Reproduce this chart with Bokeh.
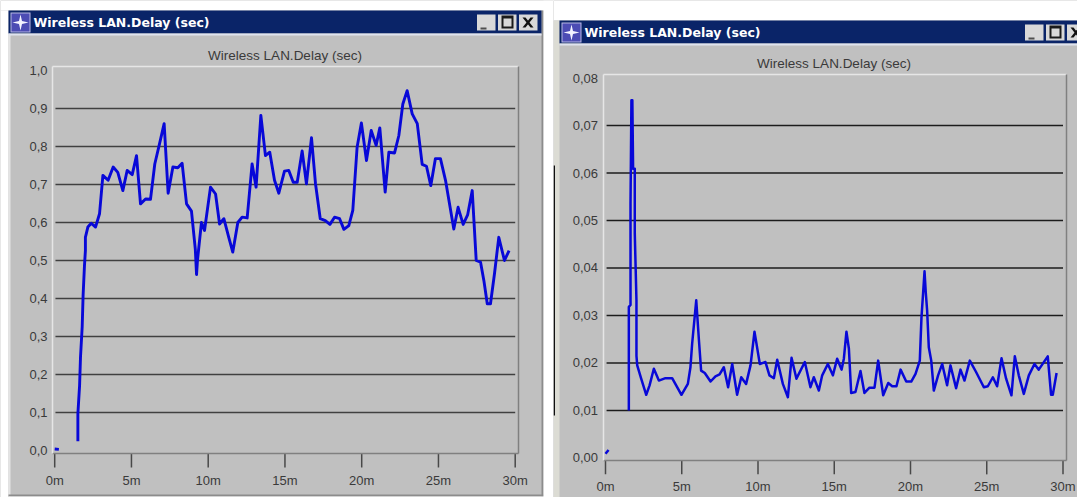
from bokeh.plotting import figure
from bokeh.layouts import row
from bokeh.models import BoxAnnotation, Label, PolyAnnotation, FixedTicker, LinearAxis
from bokeh.embed import file_html
from bokeh.resources import INLINE

WINDOW_TITLE = "Wireless LAN.Delay (sec)"
X_TICKS = [0, 5, 10, 15, 20, 25, 30]
X_LABELS = ["0m", "5m", "10m", "15m", "20m", "25m", "30m"]

L_Y_TICKS = [0.0, 0.1, 0.2, 0.3, 0.4, 0.5, 0.6, 0.7, 0.8, 0.9, 1.0]
L_Y_LABELS = ["0,0", "0,1", "0,2", "0,3", "0,4", "0,5", "0,6", "0,7", "0,8", "0,9", "1,0"]
R_Y_TICKS = [0.0, 0.01, 0.02, 0.03, 0.04, 0.05, 0.06, 0.07, 0.08]
R_Y_LABELS = ["0,00", "0,01", "0,02", "0,03", "0,04", "0,05", "0,06", "0,07", "0,08"]

L_STUB_T = [0.0, 0.27]
L_STUB_V = [0.004, 0.003]
L_T = [1.51, 1.51, 1.62, 1.68, 1.79, 1.85, 1.94, 2.0, 2.0, 2.16, 2.38, 2.66, 2.92, 3.14, 3.48, 3.81,
       4.11, 4.44, 4.72, 5.05, 5.33, 5.59, 5.92, 6.24, 6.52, 6.85, 7.13, 7.39, 7.70, 8.02, 8.3, 8.59,
       8.91, 9.16, 9.24, 9.3, 9.56, 9.76, 10.15, 10.48, 10.74, 11.02, 11.34, 11.6, 11.93, 12.21, 12.54,
       12.86, 13.12, 13.43, 13.73, 14.01, 14.32, 14.6, 14.97, 15.25, 15.54, 15.8, 16.12, 16.4, 16.73,
       16.99, 17.3, 17.63, 17.93, 18.23, 18.56, 18.84, 19.16, 19.42, 19.7, 19.98, 20.31, 20.62, 20.94,
       21.18, 21.53, 21.77, 22.14, 22.42, 22.68, 22.96, 23.29, 23.62, 23.94, 24.22, 24.5, 24.8, 25.13,
       25.46, 26.0, 26.28, 26.61, 26.9, 27.2, 27.46, 27.74, 27.96, 28.18, 28.39, 28.65, 28.93, 29.3, 29.6]
L_V = [0.024, 0.097, 0.17, 0.245, 0.325, 0.408, 0.487, 0.526, 0.561, 0.588, 0.598, 0.588, 0.623, 0.724,
       0.711, 0.746, 0.732, 0.684, 0.737, 0.726, 0.776, 0.649, 0.662, 0.661, 0.754, 0.811, 0.86, 0.677,
       0.746, 0.744, 0.756, 0.649, 0.63, 0.53, 0.463, 0.5, 0.6, 0.579, 0.693, 0.675, 0.596, 0.61, 0.561,
       0.522, 0.6, 0.614, 0.612, 0.754, 0.693, 0.882, 0.776, 0.785, 0.711, 0.677, 0.735, 0.737, 0.706,
       0.706, 0.788, 0.702, 0.823, 0.702, 0.61, 0.605, 0.595, 0.614, 0.61, 0.582, 0.592, 0.632, 0.798,
       0.862, 0.763, 0.842, 0.803, 0.849, 0.68, 0.785, 0.783, 0.829, 0.912, 0.947, 0.886, 0.86, 0.753,
       0.748, 0.697, 0.768, 0.768, 0.711, 0.583, 0.64, 0.595, 0.62, 0.684, 0.5, 0.496, 0.447, 0.386, 0.386,
       0.465, 0.561, 0.5, 0.526]

R_STUB_T = [0.0, 0.2]
R_STUB_V = [0.0009, 0.0017]
R_T = [1.53, 1.53, 1.64, 1.64, 1.7, 1.76, 1.81, 1.92, 1.92, 2.03, 2.03, 2.08, 2.34, 2.67, 2.89, 3.17, 3.5, 3.93,
       4.37, 4.98, 5.4, 5.57, 5.68, 5.95, 6.12, 6.27, 6.51, 6.89, 7.21, 7.48, 7.76, 8.04, 8.31, 8.63, 8.9,
       9.22, 9.51, 9.77, 10.12, 10.49, 10.75, 11.04, 11.26, 11.63, 11.96, 12.2, 12.52, 13.07, 13.44, 13.66,
       13.99, 14.21, 14.58, 14.91, 15.19, 15.48, 15.63, 15.8, 15.96, 16.11, 16.39, 16.72, 16.98, 17.31,
       17.64, 17.88, 18.21, 18.54, 18.8, 19.08, 19.35, 19.72, 20.05, 20.33, 20.61, 20.72, 20.83, 20.92,
       21.0, 21.09, 21.2, 21.36, 21.53, 21.81, 22.08, 22.4, 22.62, 22.99, 23.28, 23.54, 23.89, 24.3, 24.81,
       25.07, 25.4, 25.68, 25.97, 26.27, 26.62, 26.84, 27.1, 27.43, 27.76, 28.13, 28.41, 29.0, 29.22, 29.33,
       29.58]
R_V = [0.01, 0.0318, 0.0322, 0.0535, 0.0753, 0.0753, 0.0609, 0.0609, 0.0472, 0.0332, 0.0215, 0.0195, 0.0167, 0.0133,
       0.0153, 0.0188, 0.0163, 0.0168, 0.0168, 0.0133, 0.0156, 0.0191, 0.024, 0.0332, 0.0251, 0.0184, 0.0179,
       0.0161, 0.0172, 0.0176, 0.0191, 0.0149, 0.0198, 0.0133, 0.017, 0.0156, 0.0195, 0.0266, 0.0198, 0.0202,
       0.0174, 0.0168, 0.0207, 0.0156, 0.0128, 0.0211, 0.0167, 0.0202, 0.0149, 0.017, 0.0142, 0.0174, 0.0198,
       0.0174, 0.0209, 0.0186, 0.0209, 0.0266, 0.023, 0.0137, 0.0139, 0.0183, 0.0137, 0.0148, 0.0148, 0.0205,
       0.0132, 0.0158, 0.0151, 0.0151, 0.0186, 0.0161, 0.0161, 0.0177, 0.0205, 0.0296, 0.0349, 0.0393, 0.0349,
       0.0311, 0.0233, 0.0205, 0.0142, 0.0174, 0.0198, 0.0153, 0.0195, 0.0147, 0.0186, 0.0163, 0.0205, 0.0181,
       0.0149, 0.0151, 0.017, 0.0151, 0.021, 0.0167, 0.0132, 0.0214, 0.0174, 0.0135, 0.0174, 0.0198, 0.0186,
       0.0214, 0.0133, 0.0133, 0.0179]

GREY = "#c0c0c0"
NAVY = "#0a2468"
TEXT = "#3a3a3a"
BLUE = "#0808d8"
BUTTON = "#d8d8d8"
HEIGHT = 497


class Chrome:
    """Window decoration; the frame fills the canvas, so screen units are canvas pixels (y measured up)."""

    def __init__(self, p):
        self.p = p

    def box(self, l, t, r, b, color):
        self.p.add_layout(BoxAnnotation(left=l, right=r, top=HEIGHT - t, bottom=HEIGHT - b,
                                        left_units="screen", right_units="screen", top_units="screen",
                                        bottom_units="screen", fill_color=color, fill_alpha=1.0,
                                        line_color=None, level="annotation", editable=False))

    def poly(self, xs, ys, color):
        self.p.add_layout(PolyAnnotation(xs=list(xs), ys=[HEIGHT - y for y in ys],
                                         xs_units="screen", ys_units="screen", fill_color=color,
                                         fill_alpha=1.0, line_color=None, level="annotation"))

    def label(self, x, y, text, **kw):
        self.p.add_layout(Label(x=x, y=HEIGHT - y, x_units="screen", y_units="screen", text=text,
                                text_baseline="middle", **kw))

    def title_bar(self, l, r, t, b, btn_right):
        self.box(l, t, r, b, NAVY)
        self.box(l, b, r, b + 2, "#dfe3ee")
        self.box(l + 2, t + 2, l + 22, b - 1, "#b8b8e4")
        self.box(l + 3, t + 3, l + 21, b - 2, "#4c4cb4")
        cx, cy = l + 12, (t + b) / 2 + 0.5
        self.poly([cx, cx + 1.5, cx + 8, cx + 1.5, cx, cx - 1.5, cx - 8, cx - 1.5],
                  [cy - 8, cy - 1.5, cy, cy + 1.5, cy + 8, cy + 1.5, cy, cy - 1.5], "#f4f4ff")
        h0, h1 = t + 4, b - 3
        for i in range(3):
            x1 = btn_right - i * 21
            self.box(x1 - 18.5, h0, x1, h1, BUTTON)
        x1 = btn_right - 42
        self.box(x1 - 15, h1 - 3, x1 - 9, h1 - 1, "#505050")
        x1 = btn_right - 21
        self.box(x1 - 15, h0 + 1, x1 - 3, h1 - 2, "#1a1a1a")
        self.box(x1 - 13, h0 + 4, x1 - 5, h1 - 4, BUTTON)
        x1 = btn_right
        a, c, d, e = x1 - 15, x1 - 4, h0 + 3, h1 - 3
        self.poly([a, a + 3, c, c - 3], [d, d, e, e], "#101010")
        self.poly([c - 3, c, a + 3, a], [d, d, e, e], "#101010")
        self.label(l + 25, (t + b) / 2, WINDOW_TITLE, text_font="DejaVu Sans", text_font_style="bold",
                   text_font_size="12.5px", text_color="#ffffff", text_align="left")


def make(width, x_range, y_range, x_box, y_box, y_ticks, y_labels, grid_vals, grid_span, t, v, st, sv, lw,
         grid_col, tick_len, standoff):
    p = figure(width=width, height=HEIGHT, x_range=x_range, y_range=y_range, output_backend="svg",
               toolbar_location=None, x_axis_type=None, y_axis_type=None, min_border=0,
               border_fill_color=GREY, background_fill_color=GREY, outline_line_color=None)
    xa = LinearAxis(ticker=FixedTicker(ticks=X_TICKS), major_label_overrides=dict(zip(X_TICKS, X_LABELS)),
                    major_tick_in=0, major_tick_out=14, major_tick_line_color=None,
                    minor_tick_line_color=None, axis_line_color="#808080", axis_line_width=1.5,
                    major_label_standoff=standoff, major_label_text_font="Liberation Sans",
                    major_label_text_font_size="13px", major_label_text_color=TEXT,
                    fixed_location=y_box[0], bounds=x_box)
    p.add_layout(xa, "below")
    ya = LinearAxis(ticker=FixedTicker(ticks=y_ticks), major_label_overrides=dict(zip(y_ticks, y_labels)),
                    major_tick_line_color=None, major_tick_in=0, major_tick_out=0,
                    minor_tick_line_color=None, axis_line_color="#e6e6e6",
                    axis_line_width=1.5, major_label_standoff=5, major_label_text_font="Liberation Sans",
                    major_label_text_font_size="13px", major_label_text_color=TEXT,
                    fixed_location=x_box[0], bounds=y_box)
    p.add_layout(ya, "left")
    for side, col, loc, bnd in (("right", "#808080", x_box[1], y_box), ("above", "#e6e6e6", y_box[1], x_box)):
        a = LinearAxis(ticker=FixedTicker(ticks=[]), major_tick_line_color=None, minor_tick_line_color=None,
                       axis_line_color=col, axis_line_width=1.5, major_label_text_font_size="0px",
                       fixed_location=loc, bounds=bnd)
        p.add_layout(a, side)
    p.segment(x0=X_TICKS, x1=X_TICKS, y0=y_box[0], y1=y_box[0] - tick_len, line_color="#484848", line_width=1.5)
    p.segment(x0=grid_span[0], x1=grid_span[1], y0=grid_vals, y1=grid_vals, line_color=grid_col, line_width=1.5)
    p.line(st, sv, line_color=BLUE, line_width=lw)
    p.line(t, v, line_color=BLUE, line_width=lw, line_join="round")
    return p


left = make(553, (-3.531, 32.495), (-0.1237, 1.1842), (-0.143, 30.2), (-0.0079, 1.0105),
            L_Y_TICKS, L_Y_LABELS, L_Y_TICKS[1:-1], (0.05, 30.0), L_T, L_V, L_STUB_T, L_STUB_V, 2.9,
            "#404040", 0.0368, 6)
c = Chrome(left)
c.box(0, 0, 553, 10, "#ffffff")
c.box(0, 10, 8, 497, "#ffffff")
c.box(8, 10, 10, 496, "#e4e4e4")
c.box(541, 10, 543, 496, "#8c8c8c")
c.box(8, 494, 543, 496, "#8c8c8c")
c.box(8, 496, 553, 497, "#ffffff")
c.box(543, 0, 553, 497, "#ffffff")
c.title_bar(8, 541, 10, 33, 537)
c.label(284.5, 55, WINDOW_TITLE, text_font="Liberation Sans", text_font_size="13.5px", text_color=TEXT,
        text_align="center")

right = make(524, (-3.41, 30.951), (-0.00832, 0.09632), (-0.164, 30.2), (-0.0005, 0.0807),
             R_Y_TICKS, R_Y_LABELS, R_Y_TICKS[1:-1], (0.07, 30.0), R_T, R_V, R_STUB_T, R_STUB_V, 2.5,
             "#1c1c1c", 0.00295, 5)
c = Chrome(right)
c.box(0, 0, 524, 20, "#ffffff")
c.box(0, 20, 6, 497, "#dcdcd4")
c.box(0, 165, 1.5, 415, "#101010")
c.title_bar(6, 524, 20, 43, 532)
c.label(280.5, 62.5, WINDOW_TITLE, text_font="Liberation Sans", text_font_size="13.5px", text_color=TEXT,
        text_align="center")

open("out.html", "w").write(file_html(row(left, right, spacing=0), INLINE))
